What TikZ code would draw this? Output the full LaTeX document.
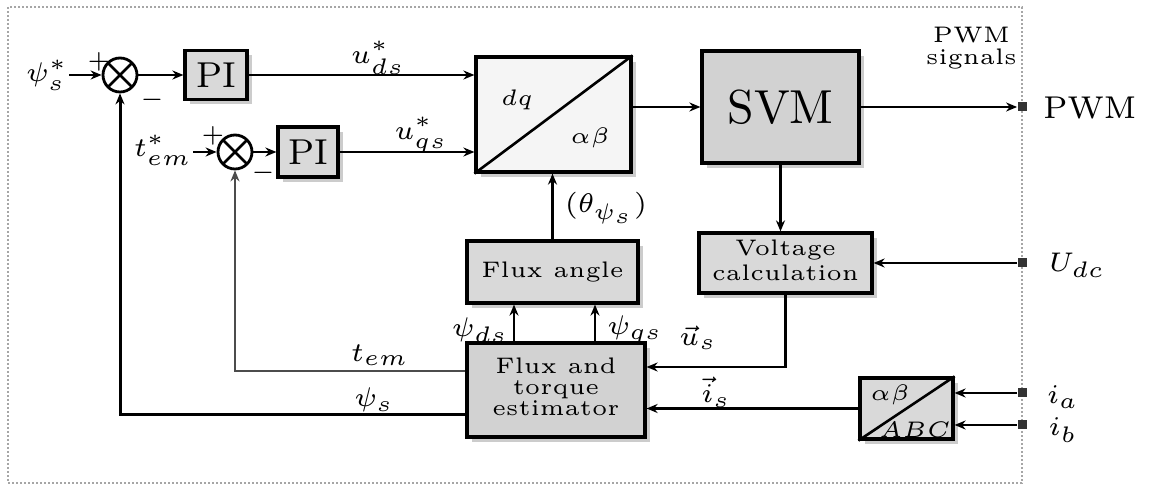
\documentclass[tikz,border=0pt]{standalone}
\usepackage{graphicx}
\usetikzlibrary{arrows.meta,shadows}
\newcommand{\Tf}[2]{\scalebox{2.25}{\fontsize{#1}{#1}\selectfont #2}}
\newcommand{\Tb}[3]{\scalebox{2.25}{\fontsize{#1}{#2}\selectfont\begin{tabular}{@{}c@{}}#3\end{tabular}}}
\begin{document}
\begin{tikzpicture}[x=0.5pt,y=-0.5pt,
  >={Stealth[length=5.5pt,width=4.5pt]},
  box/.style={draw, line width=1.6pt, fill=gray!30, inner sep=0pt,
    drop shadow={shadow xshift=2.5pt,shadow yshift=-2.5pt,opacity=0.4}},
  sig/.style={line width=1.1pt,->},
  sumc/.style={circle, draw, line width=1.4pt, minimum size=17pt, inner sep=0pt,
    path picture={\draw[line width=1.3pt]
      (path picture bounding box.north west) -- (path picture bounding box.south east)
      (path picture bounding box.north east) -- (path picture bounding box.south west);}},
  term/.style={fill=black!80, minimum size=4.5pt, inner sep=0pt},
  lbl/.style={inner sep=0.5pt}]
\useasboundingbox (0,0) rectangle (1152,485);
% frame
\draw[densely dotted, line width=1pt, gray!70] (8,7) rectangle (1022,483);
\node[lbl, anchor=east] (pwmsig) at (1018,49) {\Tb{5}{5}{PWM\\signals}};

% summing junctions and PI controllers
\node[sumc] (s1) at (120,75) {};
\node[sumc] (s2) at (235,152) {};
\node[lbl] (psiref) at (47,75) {\Tf{6}{$\psi_s^*$}};
\node[lbl] (temref) at (163,150) {\Tf{6}{$t_{em}^*$}};
\node[lbl] (p1) at (99,62) {\Tf{5}{$+$}};
\node[lbl] (m1) at (152,100) {\Tf{5}{$-$}};
\node[lbl] (p2) at (213,136) {\Tf{5}{$+$}};
\node[lbl] (m2) at (263,173) {\Tf{5}{$-$}};
\node[box, minimum width=31pt, minimum height=24.5pt] (pi1) at (216,75) {\Tf{8}{PI}};
\node[box, minimum width=30pt, minimum height=25pt] (pi2) at (308,152) {\Tf{8}{PI}};

% dq/alpha-beta
\node[box, fill=gray!8, minimum width=77.5pt, minimum height=57.5pt] (dq) at (553.5,114.5) {};
\draw[line width=1.3pt] (dq.south west) -- (dq.north east);
\node[lbl] (dqt) at (517,100) {\Tf{5}{$dq$}};
\node[lbl] (abt) at (590,138) {\Tf{5}{$\alpha\beta$}};
\node[lbl] (uds) at (378,58) {\Tf{6}{$u^*_{ds}$}};
\node[lbl] (uqs) at (421,135) {\Tf{6}{$u^*_{qs}$}};

% SVM
\node[box, fill=gray!35, minimum width=78.5pt, minimum height=56pt] (svm) at (780.5,107) {\Tf{10.6}{SVM}};
\node[term] (pwmT) at (1022,107) {};
\node[lbl, anchor=west] (pwm) at (1042,108) {\Tf{7}{PWM}};

% voltage calculation
\node[box, minimum width=86.5pt, minimum height=30pt] (vc) at (785.5,263) {\Tb{5}{5.6}{Voltage\\calculation}};
\node[term] (udcT) at (1022,263) {};
\node[lbl] (udc) at (1077,265) {\Tf{6}{$U_{dc}$}};

% flux angle
\node[box, minimum width=85.5pt, minimum height=31pt] (fa) at (552.5,272) {\Tf{5}{Flux angle}};
\node[lbl] (th) at (606,208) {\Tf{6}{$(\theta_{\psi_s})$}};

% estimator
\node[box, fill=gray!35, minimum width=89pt, minimum height=47pt] (est) at (556,390) {\Tb{5}{4.7}{Flux and\\torque\\estimator}};
\node[lbl] (psids) at (480,330) {\Tf{6}{$\psi_{ds}$}};
\node[lbl] (psiqs) at (635,330) {\Tf{6}{$\psi_{qs}$}};
\node[lbl] (tem) at (380,355) {\Tf{6}{$t_{em}$}};
\node[lbl] (psis) at (374,400) {\Tf{6}{$\psi_s$}};
\node[lbl] (us) at (698,338) {\Tf{6}{$\vec{u}_s$}};
\node[lbl] (is) at (716,392) {\Tf{6}{$\vec{i}_s$}};

% alpha-beta / ABC
\node[box, minimum width=46.5pt, minimum height=30.5pt] (abc) at (906.5,408.5) {};
\draw[line width=1.3pt] (abc.south west) -- (abc.north east);
\node[lbl] (abt2) at (890,395) {\Tf{5}{$\alpha\beta$}};
\node[lbl] (abct) at (915,430) {\Tf{5}{$ABC$}};
\node[term] (iaT) at (1022,393) {};
\node[term] (ibT) at (1022,425) {};
\node[lbl] (ia) at (1063,397) {\Tf{6}{$i_a$}};
\node[lbl] (ib) at (1063,430) {\Tf{6}{$i_b$}};

% connectors
\draw[sig] (psiref.east) -- (s1.west);
\draw[sig] (s1.east) -- (pi1.west);
\draw[sig] (pi1.east) -- (dq.west |- pi1.east);
\draw[sig] (temref.east |- s2.west) -- (s2.west);
\draw[sig] (s2.east) -- (pi2.west);
\draw[sig] (pi2.east) -- (dq.west |- pi2.east);
\draw[sig] (dq.east |- svm.west) -- (svm.west);
\draw[sig] (svm.east) -- (pwmT.west);
\draw[sig] (fa.north) -- (fa.north |- dq.south);
\draw[sig] (svm.south) -- (svm.south |- vc.north);
\draw[sig] (udcT.west) -- (vc.east);
\draw[sig] (vc.south) -- (vc.south |- 0,367) -- (est.east |- 0,367);
\draw[sig, line width=1.4pt] (est.north -| 514,0) -- (fa.south -| 514,0);
\draw[sig, line width=1.4pt] (est.north -| 595,0) -- (fa.south -| 595,0);
\draw[sig] (abc.west) -- (est.east |- abc.west);
\draw[sig] (iaT.west) -- (abc.east |- iaT.west);
\draw[sig] (ibT.west) -- (abc.east |- ibT.west);
\draw[sig, black!70] (est.west |- 0,371) -- (s2.south |- 0,371) -- (s2.south);
\draw[sig, line width=1.5pt] (est.west |- 0,415) -- (s1.south |- 0,415) -- (s1.south);
\end{tikzpicture}
\end{document}
